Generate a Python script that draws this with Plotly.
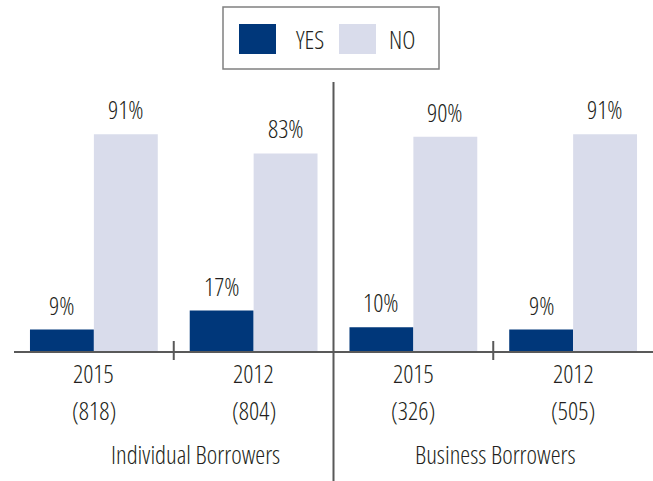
import plotly.graph_objects as go

# Survey responses by borrower type and year
groups = ["Individual Borrowers", "Business Borrowers"]
years = ["2015", "2012", "2015", "2012"]
counts = ["(818)", "(804)", "(326)", "(505)"]
yes_pct = [9, 17, 10, 9]
no_pct = [91, 83, 90, 91]
series_names = ["YES", "NO"]

YES_COLOR = "#00377a"
NO_COLOR = "#d9dceb"
LINE_COLOR = "#595959"
TEXT_COLOR = "#231f20"
FONT = "Open Sans"
FS = 25

W, H = 653, 481
ML, MR, MT, MB = 14, 0, 82, 130
PW, PH = W - ML - MR, H - MT - MB


def px(xp):
    return (xp - ML) / PW


def py(yp):
    return (H - MB - yp) / PH


def cond(s):
    # narrow face of the variable font
    return f"<span style='font-stretch:condensed'>{s}</span>"


def label(text, x, y, xref="paper", yref="paper", **kw):
    d = dict(x=x, y=y, xref=xref, yref=yref, text=cond(text), showarrow=False,
             xanchor="center", yanchor="middle",
             font=dict(size=FS, color=TEXT_COLOR, family=FONT, weight=340))
    d.update(kw)
    return d


xs = list(range(len(years)))

fig = go.Figure()
fig.add_trace(go.Bar(x=xs, y=yes_pct, name=series_names[0], marker_color=YES_COLOR,
                     marker_line_width=0))
fig.add_trace(go.Bar(x=xs, y=no_pct, name=series_names[1], marker_color=NO_COLOR,
                     marker_line_width=0))

annotations = []
# value labels above each bar
for i in xs:
    for off, vals in ((-0.2, yes_pct), (0.2, no_pct)):
        annotations.append(label(f"{vals[i]}%", i + off, vals[i], xref="x", yref="y",
                                 yanchor="bottom", yshift=6))
# category labels under the axis
for i in xs:
    xp = (i + 0.5) / len(years)
    annotations.append(label(years[i], xp, py(373)))
    annotations.append(label(counts[i], xp, py(410)))
# group labels
for gx, g in zip((195, 495), groups):
    annotations.append(label(g, px(gx), py(454)))

shapes = []
# group separator
shapes.append(dict(type="line", xref="paper", yref="paper", x0=0.5, x1=0.5,
                   y0=py(H), y1=1, line=dict(color=LINE_COLOR, width=2)))
# tick marks between years
for tx in (0.25, 0.75):
    shapes.append(dict(type="line", xref="paper", yref="paper", x0=tx, x1=tx,
                       y0=py(360), y1=py(341), line=dict(color=LINE_COLOR, width=2)))

# legend box drawn by hand for large swatches
shapes.append(dict(type="rect", xref="paper", yref="paper", x0=px(223), x1=px(439),
                   y0=py(69), y1=py(7), line=dict(color="#808080", width=1.5),
                   fillcolor="white"))
for (sx0, sx1, col, tx, name) in ((239, 276, YES_COLOR, 294, series_names[0]),
                                 (339, 376, NO_COLOR, 387, series_names[1])):
    shapes.append(dict(type="rect", xref="paper", yref="paper", x0=px(sx0), x1=px(sx1),
                       y0=py(54), y1=py(24), line=dict(width=0), fillcolor=col))
    annotations.append(label(name, px(tx), py(39), xanchor="left"))

fig.update_layout(
    width=W, height=H,
    margin=dict(l=ML, r=MR, t=MT, b=MB, pad=0),
    paper_bgcolor="white", plot_bgcolor="white",
    barmode="group", bargap=0.2, bargroupgap=0,
    showlegend=False,
    annotations=annotations, shapes=shapes,
    font=dict(family=FONT, color=TEXT_COLOR, size=FS),
)
fig.update_xaxes(range=[-0.5, 3.5], showticklabels=False, ticks="", showgrid=False,
                 zeroline=False, showline=True, linecolor=LINE_COLOR, linewidth=2)
fig.update_yaxes(range=[0, 113], showticklabels=False, ticks="", showgrid=False,
                 zeroline=False, showline=False)

fig.write_html("out.html")
